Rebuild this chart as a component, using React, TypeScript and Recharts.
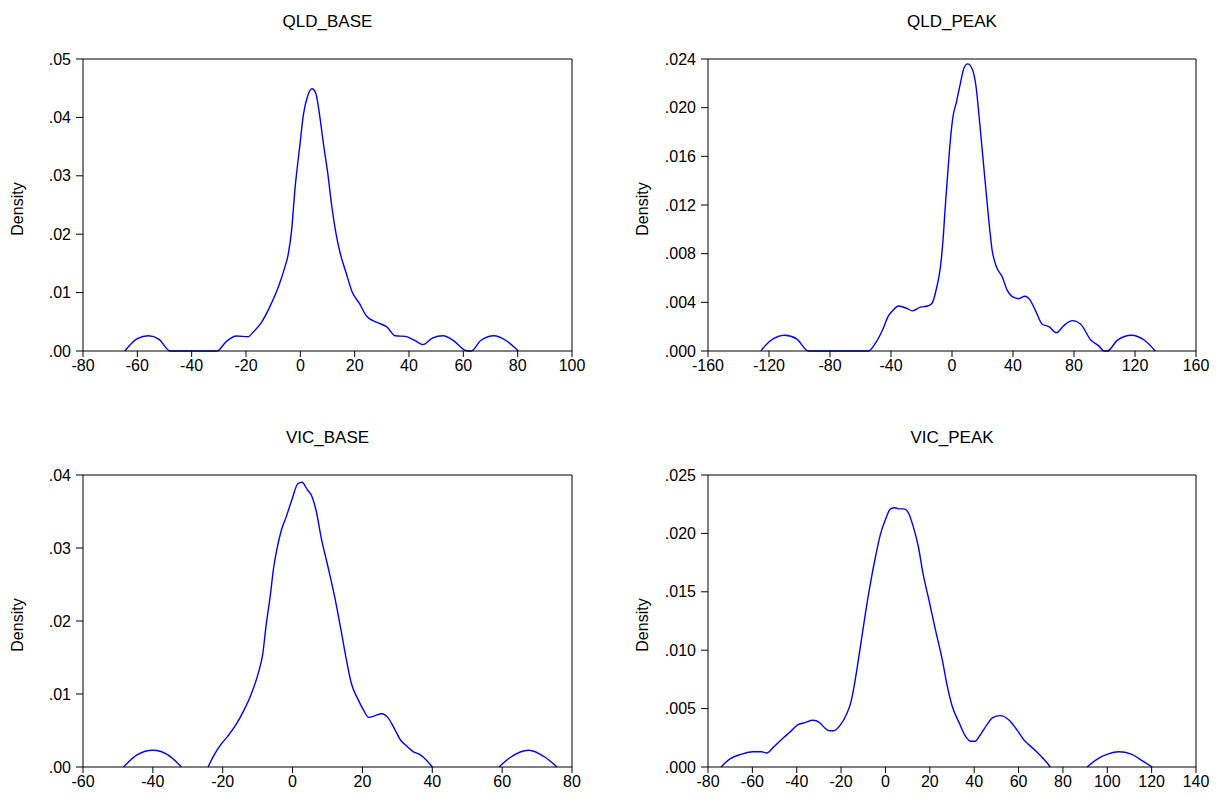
import React from "react";
import { LineChart, Line, XAxis, YAxis, ReferenceLine } from "recharts";

// kernel density estimates
const qldBaseX = [-64.6, -60, -55.9, -52, -47.9, -40, -30.7, -27.2, -23.5, -19.2, -17.4, -14.3, -11.2, -7.9, -6.0, -4.4, -3.2, -2.0, -0.1, 1.1, 2.8, 4.3, 5.7, 7.0, 8.5, 10.1, 11.6, 13.1, 14.7, 16.9, 19.0, 21.8, 24.5, 28.2, 31.9, 35.0, 38.7, 41.8, 45.1, 48.6, 52.5, 56.6, 60.3, 61.9, 63.0, 66.4, 71.3, 75.7, 80.2];
const qldBaseY = [0, 0.0021, 0.0026, 0.002, 0, 0, 0, 0.00165, 0.00256, 0.00245, 0.0032, 0.0049, 0.0076, 0.0112, 0.0139, 0.0167, 0.0207, 0.0276, 0.0355, 0.0404, 0.0438, 0.0449, 0.0441, 0.0407, 0.0355, 0.0304, 0.0247, 0.0202, 0.0167, 0.0133, 0.0102, 0.0081, 0.0059, 0.0049, 0.0041, 0.0026, 0.0025, 0.0019, 0.0011, 0.0022, 0.0026, 0.0017, 0.0002, 0, 0, 0.0018, 0.0026, 0.0018, 0];
const qldBaseXTicks = [-80, -60, -40, -20, 0, 20, 40, 60, 80, 100];
const qldBaseYTicks = [0, 0.01, 0.02, 0.03, 0.04, 0.05];

const qldPeakX = [-125.4, -119.5, -109.6, -101.9, -94.2, -70, -54.8, -50.4, -46.0, -41.6, -38.4, -35.1, -29.6, -25.9, -20.8, -16.0, -13.2, -9.9, -7.7, -5.9, -4.4, -2.8, -1.1, 0.7, 2.8, 5.5, 7.7, 10.3, 13.2, 15.8, 18.2, 20.8, 23.7, 26.3, 29.2, 32.9, 36.2, 40.5, 43.8, 47.8, 51.1, 54.8, 59.2, 63.6, 68.4, 73.4, 78.9, 84.4, 91.0, 96.4, 99.7, 101.9, 108.5, 117.7, 126.0, 133.3];
const qldPeakY = [0, 0.0008, 0.0013, 0.001, 0, 0, 0, 0.0006, 0.0016, 0.0029, 0.0034, 0.0037, 0.0035, 0.0033, 0.0036, 0.0037, 0.0039, 0.0053, 0.0068, 0.0091, 0.0119, 0.0146, 0.0173, 0.0193, 0.0204, 0.022, 0.0232, 0.0236, 0.0232, 0.0217, 0.0187, 0.0152, 0.0113, 0.0083, 0.0069, 0.0061, 0.005, 0.0044, 0.0043, 0.0045, 0.0042, 0.0033, 0.0022, 0.002, 0.0015, 0.0021, 0.0025, 0.0022, 0.0009, 0.0004, 0, 0, 0.0009, 0.0013, 0.0009, 0];
const qldPeakXTicks = [-160, -120, -80, -40, 0, 40, 80, 120, 160];
const qldPeakYTicks = [0, 0.004, 0.008, 0.012, 0.016, 0.02, 0.024];

const vicBaseX = [-48.4, -44.4, -40.0, -35.8, -31.8, -28, -24.2, -22.4, -20.5, -18.6, -16.2, -13.8, -11.9, -9.8, -8.5, -7.6, -6.4, -5.5, -4.5, -3.3, -1.8, -0.2, 1.5, 2.7, 4.2, 5.6, 6.8, 8.2, 10.1, 12.1, 14.0, 15.4, 16.8, 18.8, 20.2, 21.8, 23.5, 25.5, 27.4, 29.1, 30.9, 32.6, 34.5, 36.5, 38.4, 40.0, 50, 59.1, 62.3, 67.6, 72.4, 75.7];
const vicBaseY = [0, 0.0017, 0.0023, 0.0017, 0, null, 0, 0.0017, 0.0031, 0.0042, 0.0058, 0.0079, 0.0099, 0.0129, 0.0156, 0.0193, 0.0234, 0.027, 0.0298, 0.0323, 0.0343, 0.0366, 0.0388, 0.039, 0.038, 0.037, 0.035, 0.0314, 0.0275, 0.0232, 0.0184, 0.0147, 0.0115, 0.0092, 0.0079, 0.0068, 0.007, 0.0073, 0.0067, 0.0053, 0.0037, 0.0029, 0.0021, 0.0017, 0.0009, 0, null, 0, 0.0013, 0.0023, 0.0013, 0];
const vicBaseXTicks = [-60, -40, -20, 0, 20, 40, 60, 80];
const vicBaseYTicks = [0, 0.01, 0.02, 0.03, 0.04];

const vicPeakX = [-74.1, -70.1, -64.8, -59.8, -55.8, -53.5, -50.5, -46.0, -43.0, -39.6, -36.2, -32.7, -29.7, -27.1, -25.2, -23.4, -20.3, -17.6, -15.5, -13.6, -11.3, -9.0, -6.8, -4.5, -2.3, 0, 2.3, 4.2, 6.5, 8.3, 10.5, 12.5, 14.8, 16.9, 19.6, 22.6, 25.6, 27.9, 30.1, 33.2, 36.2, 38.4, 40.4, 42.9, 45.7, 48.2, 51.7, 55.8, 58.8, 62.5, 67.1, 70.8, 73.1, 74.3, 82, 90.9, 95.7, 100.2, 105.2, 110.8, 116.0, 120.3];
const vicPeakY = [0, 0.0007, 0.0011, 0.0013, 0.0013, 0.0012, 0.0017, 0.0025, 0.003, 0.0036, 0.0038, 0.004, 0.0038, 0.0033, 0.0031, 0.0031, 0.0036, 0.0045, 0.0056, 0.0075, 0.0103, 0.0132, 0.0157, 0.018, 0.0199, 0.0212, 0.0221, 0.0222, 0.0221, 0.0221, 0.0217, 0.0206, 0.0189, 0.0166, 0.0143, 0.0117, 0.0092, 0.0069, 0.0052, 0.0038, 0.0026, 0.0022, 0.0022, 0.0028, 0.0036, 0.0042, 0.0044, 0.004, 0.0033, 0.0023, 0.0015, 0.0008, 0.0003, 0, null, 0, 0.0007, 0.0011, 0.0013, 0.0011, 0.0005, 0];
const vicPeakXTicks = [-80, -60, -40, -20, 0, 20, 40, 60, 80, 100, 120, 140];
const vicPeakYTicks = [0, 0.005, 0.01, 0.015, 0.02, 0.025];

const FONT = "'Liberation Sans', Arial, sans-serif";

interface PanelProps {
  title: string;
  xs: number[];
  ys: (number | null)[];
  xTicks: number[];
  yTicks: number[];
  decimals: number;
  plotLeft: number;
  plotTop: number;
  plotW: number;
  plotH: number;
}

const Panel = ({ title, xs, ys, xTicks, yTicks, decimals, plotLeft, plotTop, plotW, plotH }: PanelProps) => {
  const data = xs.map((x, i) => ({ x, y: ys[i] }));
  const xMin = xTicks[0];
  const xMax = xTicks[xTicks.length - 1];
  const yMax = yTicks[yTicks.length - 1];
  const fmt = (v: number) => v.toFixed(decimals).replace(/^0/, "");
  const tickStyle = { fill: "#000", fontSize: 16 };

  return (
    <>
      <div
        style={{
          position: "absolute",
          left: plotLeft,
          width: plotW,
          top: plotTop - 46,
          textAlign: "center",
          fontSize: 17,
          lineHeight: "18px",
        }}
      >
        {title}
      </div>
      <div
        style={{
          position: "absolute",
          left: plotLeft - 65 - 60,
          top: plotTop + plotH / 2 - 8 + 4,
          width: 120,
          textAlign: "center",
          fontSize: 16,
          lineHeight: "16px",
          transform: "rotate(-90deg)",
        }}
      >
        Density
      </div>
      <div style={{ position: "absolute", left: plotLeft - 70, top: plotTop - 10 }}>
        <LineChart
          width={plotW + 100}
          height={plotH + 40}
          data={data}
          margin={{ top: 10, right: 30, bottom: 0, left: 0 }}
        >
          <XAxis
            type="number"
            dataKey="x"
            domain={[xMin, xMax]}
            ticks={xTicks}
            interval={0}
            height={30}
            tickSize={6}
            tickMargin={3}
            stroke="#000"
            tick={tickStyle}
          />
          <YAxis
            type="number"
            domain={[0, yMax]}
            ticks={yTicks}
            interval={0}
            width={70}
            tickSize={7}
            tickMargin={5}
            stroke="#000"
            tick={tickStyle}
            tickFormatter={fmt}
          />
          <ReferenceLine y={yMax} stroke="#000" />
          <ReferenceLine x={xMax} stroke="#000" />
          <Line
            type="monotone"
            dataKey="y"
            stroke="#0000ff"
            strokeWidth={1.4}
            dot={false}
            connectNulls={false}
            isAnimationActive={false}
          />
        </LineChart>
      </div>
    </>
  );
};

export default function App() {
  return (
    <div
      style={{
        position: "absolute",
        left: 0,
        top: 0,
        width: 1217,
        height: 794,
        background: "#fff",
        fontFamily: FONT,
        color: "#000",
        overflow: "hidden",
      }}
    >
      <Panel title="QLD_BASE" xs={qldBaseX} ys={qldBaseY} xTicks={qldBaseXTicks} yTicks={qldBaseYTicks} decimals={2} plotLeft={83} plotTop={59} plotW={489} plotH={292} />
      <Panel title="QLD_PEAK" xs={qldPeakX} ys={qldPeakY} xTicks={qldPeakXTicks} yTicks={qldPeakYTicks} decimals={3} plotLeft={708} plotTop={59} plotW={488} plotH={292} />
      <Panel title="VIC_BASE" xs={vicBaseX} ys={vicBaseY} xTicks={vicBaseXTicks} yTicks={vicBaseYTicks} decimals={2} plotLeft={83} plotTop={475} plotW={489} plotH={292} />
      <Panel title="VIC_PEAK" xs={vicPeakX} ys={vicPeakY} xTicks={vicPeakXTicks} yTicks={vicPeakYTicks} decimals={3} plotLeft={708} plotTop={475} plotW={488} plotH={292} />
    </div>
  );
}
